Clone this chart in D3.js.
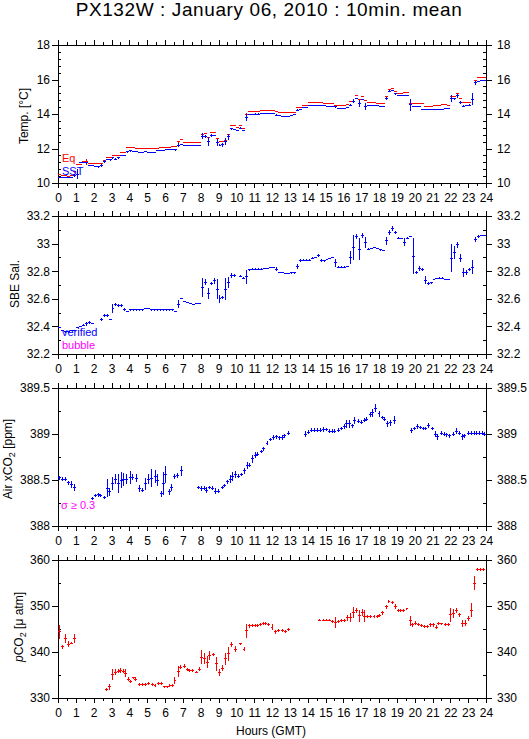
<!DOCTYPE html>
<html><head><meta charset="utf-8">
<script src="https://cdn.jsdelivr.net/npm/d3@7"></script>
<style>
body{margin:0;background:#fff;}
svg text{font-family:"Liberation Sans",Arial,Helvetica,sans-serif;}
</style></head><body>
<svg id="c" width="529" height="739"></svg>
<script>
// ---------- DATA ----------
const hourLabels = [0,1,2,3,4,5,6,7,8,9,10,11,12,13,14,15,16,17,18,19,20,21,22,23,24];
const halfHourTicks = [0.5,1.5,2.5,3.5,4.5,5.5,6.5,7.5,8.5,9.5,10.5,11.5,12.5,13.5,14.5,15.5,16.5,17.5,18.5,19.5,20.5,21.5,22.5,23.5];

// Panel 1: 10-min bins (6 per hour), Eq temperature (red) and SST (blue)
const eqTemp = [
 10.48,10.46,10.42,10.4,10.44,10.64,  11.07,11.07,11.22,11.22,11.12,11.12,
 11.12,11.12,11.12,11.32,11.5,11.5,   11.6,11.6,11.6,11.75,11.75,12.05,
 12.05,12.05,12.0,12.0,12.0,12.0,     12.02,12.02,12.02,12.02,12.05,12.05,
 12.05,12.05,12.13,12.13,12.38,12.52, 12.36,12.36,12.36,12.36,12.36,12.36,
 12.81,12.87,12.64,12.9,12.95,12.56,  12.38,12.38,12.48,12.83,13.31,13.31,
 13.22,13.31,13.16,14.0,14.17,14.17,  14.17,14.17,14.19,14.19,14.19,14.19,
 14.19,14.17,14.1,14.1,14.1,14.1,     14.1,14.1,14.38,14.38,14.5,14.5,
 14.67,14.67,14.67,14.67,14.67,14.61, 14.61,14.61,14.61,14.48,14.48,14.48,
 14.48,14.57,14.71,14.75,15.06,14.84, 15.0,14.8,14.65,14.65,14.65,14.61,
 14.61,14.61,15.0,15.43,15.5,15.33,   15.19,15.19,15.27,15.27,14.59,14.59,
 14.59,14.59,14.59,14.44,14.44,14.44, 14.5,14.5,14.5,14.55,14.55,14.48,
 15.0,15.0,15.19,14.9,14.69,14.69,    14.69,14.84,15.93,16.09,16.09,16.09
];
const eqTempSd = [
 .02,.02,.02,.02,.02,.05, .02,.02,.02,.2,.02,.02,
 .02,.02,.02,.03,.02,.02, .02,.02,.02,.02,.02,.03,
 .02,.02,.02,.02,.02,.02, .02,.02,.02,.02,.02,.02,
 .02,.02,.02,.02,.04,.02, .02,.02,.02,.02,.02,.02,
 .03,.03,.04,.03,.03,.03, .02,.02,.03,.03,.02,.02,
 .02,.02,.02,.04,.02,.02, .02,.02,.02,.02,.02,.02,
 .02,.02,.02,.02,.02,.02, .02,.02,.02,.02,.02,.02,
 .02,.02,.02,.02,.02,.02, .02,.02,.02,.02,.02,.02,
 .02,.02,.03,.03,.03,.03, .03,.03,.02,.02,.02,.02,
 .02,.02,.03,.03,.02,.02, .02,.02,.02,.02,.06,.02,
 .02,.02,.02,.02,.02,.02, .02,.02,.02,.02,.02,.02,
 .04,.03,.03,.03,.02,.02, .02,.03,.04,.02,.02,.02
];
const sstTemp = [
 10.33,10.33,10.32,10.31,10.33,10.45, 10.5,11.18,11.18,11.16,10.99,10.99,
 10.93,10.93,11.0,11.26,11.36,11.34,  11.45,11.38,11.45,11.6,11.6,11.8,
 11.86,11.8,11.8,11.79,11.79,11.8,    11.78,11.78,11.78,11.86,11.86,11.88,
 11.94,11.94,11.93,11.92,12.19,12.25, 12.19,12.19,12.18,12.18,12.18,12.18,
 12.71,12.69,12.4,12.75,12.77,12.33,  12.2,12.22,12.4,12.67,13.14,13.12,
 13.06,13.18,13.04,13.8,13.99,13.99,  14.0,14.0,14.03,14.03,14.02,14.03,
 14.03,13.93,13.9,13.88,13.88,13.88,  13.9,13.97,14.22,14.24,14.36,14.38,
 14.5,14.5,14.5,14.5,14.5,14.48,      14.42,14.42,14.44,14.42,14.3,14.3,
 14.3,14.38,14.52,14.75,14.9,14.61,   14.84,14.46,14.5,14.5,14.48,14.48,
 14.44,14.44,14.9,15.33,15.39,15.16,  15.06,15.06,15.06,15.06,14.53,14.42,
 14.42,14.42,14.28,14.28,14.28,14.28, 14.28,14.28,14.28,14.28,14.34,14.34,
 14.9,14.88,15.06,14.67,14.46,14.5,   14.52,14.86,15.81,15.9,15.97,15.97
];
const sstTempSd = [
 .03,.03,.03,.03,.04,.08, .29,.04,.04,.05,.03,.03,
 .03,.04,.08,.08,.03,.06, .03,.06,.03,.03,.03,.07,
 .05,.03,.03,.03,.03,.03, .03,.03,.03,.03,.03,.03,
 .03,.03,.03,.04,.1,.03,  .03,.03,.03,.03,.03,.03,
 .18,.08,.25,.08,.04,.2,  .06,.12,.2,.15,.05,.03,
 .03,.04,.04,.22,.03,.03, .03,.03,.03,.03,.03,.03,
 .03,.05,.03,.03,.03,.03, .03,.04,.05,.03,.03,.03,
 .03,.03,.03,.03,.03,.03, .03,.03,.03,.05,.03,.03,
 .03,.04,.06,.12,.05,.2,  .04,.2,.03,.03,.03,.03,
 .03,.05,.1,.05,.03,.04,  .03,.03,.03,.03,.33,.03,
 .04,.03,.03,.03,.03,.03, .03,.03,.03,.03,.03,.03,
 .2,.06,.12,.08,.04,.05,  .04,.33,.1,.04,.03,.03
];

// Panel 2: SBE salinity, 10-min bins
const sbeSal = [
 32.39,32.37,32.36,32.36,32.37,32.37,   32.39,32.40,32.41,32.42,32.43,32.42,
 null,null,32.45,32.48,32.48,32.45,     32.53,32.56,32.55,32.55,32.52,32.51,
 32.52,32.52,32.52,32.52,32.52,32.53,   32.53,32.52,32.52,32.52,32.52,32.52,
 32.52,32.52,32.52,32.51,32.56,32.60,   32.58,32.575,32.565,32.56,32.565,32.565,
 32.68,32.72,32.64,32.71,32.73,32.67,   32.60,32.61,32.67,32.72,32.77,32.77,
 null,32.765,32.75,32.76,32.81,32.815,  32.815,32.815,32.815,32.82,32.82,32.825,
 32.825,32.815,32.79,32.79,32.785,32.785, 32.787,32.787,32.835,32.88,32.88,32.88,
 32.88,32.895,32.9,32.915,32.877,32.875, 32.885,32.89,32.9,32.86,32.83,32.83,
 32.83,32.835,32.9,32.97,33.05,32.96,   33.06,33.01,32.96,32.965,32.97,32.965,
 32.955,32.95,33.02,33.08,33.11,33.08,  33.04,33.035,33.01,33.04,33.05,32.91,
 32.79,32.82,32.81,32.735,32.71,32.715, 32.74,32.745,32.75,32.75,32.74,32.74,
 32.895,32.935,32.99,32.895,32.79,32.79, 32.81,32.83,33.03,33.05,33.06,33.06
];
const sbeSalSd = [
 .005,.005,.005,.005,.005,.005, .005,.005,.01,.015,.01,.005,
 0,0,.01,.01,.01,.005,          .035,.01,.01,.01,.01,.005,
 .005,.005,.005,.005,.005,.005, .005,.005,.005,.005,.005,.005,
 .005,.005,.005,.005,.03,.005,  .005,.005,.005,.005,.005,.005,
 .07,.02,.04,.01,.02,.07,       .03,.01,.08,.04,.02,.01,
 0,.005,.01,.05,.005,.005,      .005,.005,.005,.005,.005,.005,
 .005,.015,.005,.005,.005,.005, .005,.005,.02,.01,.005,.005,
 .005,.005,.005,.01,.01,.005,   .005,.005,.005,.03,.005,.005,
 .005,.005,.05,.09,.02,.08,     .02,.04,.005,.005,.005,.005,
 .005,.005,.03,.02,.02,.01,     .005,.005,.03,.005,.005,.13,
 .01,.02,.01,.03,.01,.005,      .005,.005,.005,.005,.005,.005,
 .1,.05,.02,.03,.03,.02,        .01,.05,.02,.01,.005,.005
];

// Panel 3: Air xCO2 [hour, ppm, sd]
const airXCO2 = [
 [0.07,388.525,.02],[0.27,388.51,.02],[0.43,388.51,.02],[0.6,388.47,.02],[0.77,388.45,.035],[0.93,388.42,.04],
 [1.93,388.30,.02],[2.1,388.33,.02],[2.25,388.34,.02],[2.4,388.33,.02],[2.6,388.31,.02],[2.75,388.41,.1],
 [2.9,388.37,.045],[3.05,388.46,.07],[3.2,388.51,.055],[3.4,388.46,.1],[3.55,388.50,.09],[3.7,388.51,.07],
 [3.85,388.51,.055],[4.05,388.53,.07],[4.2,388.53,.035],[4.4,388.52,.045],[4.55,388.41,.035],[4.75,388.39,.02],
 [4.9,388.46,.065],[5.1,388.51,.055],[5.25,388.52,.1],[5.45,388.54,.07],[5.6,388.50,.065],[5.8,388.35,.035],
 [5.9,388.46,.125],[6.05,388.56,.09],[6.25,388.37,.035],[6.35,388.42,.035],[6.55,388.54,.03],[6.7,388.55,.03],
 [6.9,388.60,.055],
 [7.9,388.42,.02],[8.05,388.41,.03],[8.2,388.41,.02],[8.35,388.39,.03],[8.5,388.42,.02],[8.65,388.41,.02],
 [8.85,388.38,.03],[9.0,388.38,.02],[9.2,388.42,.02],[9.35,388.44,.02],[9.5,388.48,.02],[9.65,388.51,.04],
 [9.8,388.54,.05],[9.95,388.56,.04],[10.1,388.54,.02],[10.3,388.56,.02],[10.45,388.60,.03],[10.6,388.66,.04],
 [10.75,388.66,.02],[10.9,388.73,.04],[11.05,388.77,.03],[11.2,388.78,.02],[11.4,388.81,.02],[11.55,388.84,.02],
 [11.72,388.90,.02],[11.9,388.94,.02],[12.07,388.96,.03],[12.26,388.97,.02],[12.4,388.96,.02],[12.58,388.96,.03],
 [12.72,388.98,.02],[12.9,389.01,.02],
 [13.89,389.0,.03],[14.03,389.02,.02],[14.2,389.04,.02],[14.38,389.04,.02],[14.56,389.04,.02],[14.73,389.04,.02],
 [14.88,389.05,.03],[15.07,389.05,.02],[15.2,389.03,.02],[15.4,389.03,.02],[15.52,389.03,.02],[15.72,389.04,.02],
 [15.9,389.06,.02],[16.05,389.08,.03],[16.2,389.11,.04],[16.33,389.11,.04],[16.5,389.09,.02],[16.65,389.15,.04],
 [16.84,389.14,.02],[17.0,389.13,.02],[17.16,389.15,.02],[17.32,389.16,.02],[17.5,389.21,.03],[17.65,389.23,.04],
 [17.83,389.28,.045],[18.0,389.22,.03],[18.18,389.18,.02],[18.33,389.16,.02],[18.5,389.11,.03],[18.65,389.12,.03],
 [18.86,389.15,.045],
 [19.83,389.04,.025],[19.98,389.06,.02],[20.15,389.08,.03],[20.3,389.07,.02],[20.48,389.06,.02],[20.62,389.06,.02],
 [20.8,389.09,.03],[20.98,389.06,.02],[21.15,389.0,.03],[21.3,388.97,.03],[21.48,389.01,.02],[21.65,389.0,.02],
 [21.8,388.99,.02],[21.98,388.98,.02],[22.17,389.0,.02],[22.35,389.03,.03],[22.5,389.01,.02],[22.68,388.97,.03],
 [22.82,388.98,.02],[23.0,389.01,.02],[23.16,389.01,.02],[23.33,389.01,.02],[23.48,389.01,.02],[23.62,389.01,.02],
 [23.78,389.01,.02],[23.92,389.0,.02]
];

// Panel 4: seawater pCO2 [hour, uatm, sd]
const pco2 = [
 [0.07,344.35,1.6],[0.27,341.1,0.5],[0.43,343.0,1.0],[0.6,341.7,0.7],[0.77,341.95,0.3],[0.93,343.0,1.0],
 [2.7,331.8,0.3],[2.88,332.4,0.6],[3.07,335.1,1.2],[3.23,335.65,0.7],[3.38,335.8,0.4],[3.53,336.0,0.6],
 [3.66,335.8,0.4],[3.8,335.4,0.8],[3.94,334.1,0.4],[4.09,333.6,0.3],[4.22,334.35,0.3],[4.37,334.1,0.4],
 [4.56,332.9,0.3],[4.75,333.0,0.3],[4.92,332.9,0.3],[5.1,333.2,0.3],[5.29,332.9,0.3],[5.44,332.7,0.3],
 [5.63,333.2,0.3],[5.8,333.1,0.3],[5.96,332.4,0.3],[6.13,332.4,0.3],[6.28,332.7,0.3],[6.43,332.7,0.3],
 [6.56,333.8,0.7],[6.73,335.8,1.2],[6.88,336.7,0.4],[7.07,336.9,0.4],[7.25,336.15,0.3],[7.4,336.0,0.3],
 [7.55,335.9,0.3],[7.74,335.65,0.3],[7.93,336.3,0.5],
 [8.06,338.9,1.5],[8.2,338.5,1.2],[8.36,337.8,1.3],[8.52,339.2,1.0],[8.7,339.4,0.3],[8.9,337.4,1.5],
 [9.05,335.6,0.8],[9.2,336.5,0.7],[9.38,338.55,1.3],[9.55,339.6,1.5],[9.74,341.6,0.5],[9.93,340.65,0.7],
 [10.24,341.75,0.3],[10.43,340.65,0.5],[10.58,344.6,1.5],[10.73,345.7,0.4],[10.88,345.8,0.3],[11.05,345.8,0.3],
 [11.2,345.8,0.3],[11.36,345.9,0.3],[11.51,346.15,0.3],[11.66,346.15,0.3],[11.83,345.9,0.3],[12.0,345.4,0.7],
 [12.2,344.35,0.4],[12.39,344.7,0.3],[12.58,344.7,0.3],[12.77,344.5,0.3],[12.93,344.9,0.4],
 [14.69,346.95,0.3],[14.88,346.95,0.3],[15.07,346.95,0.3],[15.22,346.95,0.3],[15.4,346.7,0.3],[15.57,346.5,1.2],
 [15.74,346.7,0.3],[15.9,346.8,0.3],[16.07,346.8,0.3],[16.24,347.4,0.6],[16.41,347.5,1.0],[16.56,348.5,1.2],
 [16.73,349.0,0.5],[16.9,347.9,1.3],[17.05,348.6,0.8],[17.2,347.75,1.3],[17.38,347.75,0.3],[17.55,347.75,0.3],
 [17.72,347.75,0.3],[17.89,347.75,0.3],[18.05,347.9,0.3],[18.22,348.5,0.5],[18.4,349.8,0.5],[18.56,350.9,0.3],
 [18.73,350.7,0.3],[18.9,349.9,0.5],[19.07,349.1,0.3],[19.23,349.1,0.3],[19.4,349.1,0.3],[19.57,349.35,0.3],
 [19.74,346.8,1.1],[19.89,345.9,0.4],[20.04,346.3,0.4],[20.21,345.9,0.3],[20.37,345.7,0.3],[20.54,345.5,0.3],
 [20.71,345.5,0.3],[20.9,345.9,0.4],[21.05,345.9,0.4],[21.2,345.4,0.4],[21.36,346.2,0.3],[21.53,346.1,0.3],
 [21.72,346.0,0.3],[21.89,346.0,0.3],[22.02,348.1,1.5],[22.19,348.3,1.0],[22.36,349.05,0.5],[22.5,348.1,0.4],
 [22.67,346.2,0.8],[22.84,346.3,0.7],[23.0,347.25,0.5],[23.17,349.1,1.5],[23.35,355.0,1.5],[23.52,357.9,0.3],
 [23.68,357.9,0.3],[23.85,357.9,0.3]
];

// Axis ticks
const tempTicks = [10,12,14,16,18];
const salTicks = [32.2,32.4,32.6,32.8,33,33.2];
const airTicks = [388,388.5,389,389.5];
const pco2Ticks = [330,340,350,360];

// ---------- DRAWING ----------
const FONT = '"Liberation Sans", Arial, Helvetica, sans-serif';
const BLUE = "#0000ff", RED = "#ff0000", MAG = "#ff00ff";
const svg = d3.select("#c");
svg.append("rect").attr("width",529).attr("height",739).attr("fill","#fff");

const x = d3.scaleLinear().domain([0,24]).range([58,486]);
const PH = 138;

function binned(vals, sds){
  return vals.map((v,i)=> v==null ? null : {h:(i+0.5)/6, v:v, sd:sds[i]}).filter(d=>d);
}
function tuples(arr){ return arr.map(d=>({h:d[0], v:d[1], sd:d[2]})); }

function styleAxis(sel){
  sel.select(".domain").remove();
  sel.attr("font-family",null).attr("font-size",null);
  sel.selectAll("line").attr("stroke","#000");
  sel.selectAll("text").attr("font-family",FONT).attr("font-size",12).attr("fill","#000");
}

function panel(top, domain, majors, minorStep){
  const bottom = top + PH;
  const y = d3.scaleLinear().domain(domain).range([bottom, top]);
  const g = svg.append("g").attr("shape-rendering","crispEdges");
  const minors = d3.range(domain[0], domain[1] + 1e-9, minorStep)
      .filter(v => !majors.some(m => Math.abs(m - v) < 1e-6));
  g.append("g").attr("transform",`translate(0,${bottom})`)
    .call(d3.axisBottom(x).tickValues(hourLabels).tickSize(5).tickSizeOuter(0).tickPadding(5.5)).call(styleAxis);
  g.append("g").attr("transform",`translate(0,${bottom})`)
    .call(d3.axisBottom(x).tickValues(halfHourTicks).tickSize(3).tickSizeOuter(0).tickFormat("")).call(styleAxis);
  g.append("g").attr("transform",`translate(0,${top})`)
    .call(d3.axisTop(x).tickValues(hourLabels).tickSize(5).tickSizeOuter(0).tickFormat("")).call(styleAxis);
  g.append("g").attr("transform",`translate(0,${top})`)
    .call(d3.axisTop(x).tickValues(halfHourTicks).tickSize(3).tickSizeOuter(0).tickFormat("")).call(styleAxis);
  g.append("g").attr("transform",`translate(58,0)`)
    .call(d3.axisLeft(y).tickValues(majors).tickSize(6).tickSizeOuter(0).tickPadding(2).tickFormat(d=>String(d))).call(styleAxis);
  g.append("g").attr("transform",`translate(58,0)`)
    .call(d3.axisLeft(y).tickValues(minors).tickSize(-3).tickSizeOuter(0).tickFormat("")).call(styleAxis);
  g.append("g").attr("transform",`translate(486,0)`)
    .call(d3.axisRight(y).tickValues(majors).tickSize(6).tickSizeOuter(0).tickPadding(5).tickFormat(d=>String(d))).call(styleAxis);
  g.append("g").attr("transform",`translate(486,0)`)
    .call(d3.axisRight(y).tickValues(minors).tickSize(-3).tickSizeOuter(0).tickFormat("")).call(styleAxis);
  g.append("rect").attr("x",58).attr("y",top).attr("width",486-58).attr("height",PH)
    .attr("fill","none").attr("stroke","#000");
  return {y, g, top, bottom};
}

function drawCrosses(p, data, color){
  const s = p.g.append("g").attr("stroke",color).attr("stroke-width",1);
  s.selectAll("line.hz").data(data).join("line").attr("class","hz")
    .attr("x1",d=>x(d.h-1/12)).attr("x2",d=>x(d.h+1/12))
    .attr("y1",d=>p.y(d.v)).attr("y2",d=>p.y(d.v));
  s.selectAll("line.vt").data(data).join("line").attr("class","vt")
    .attr("x1",d=>x(d.h)).attr("x2",d=>x(d.h))
    .attr("y1",d=>p.y(d.v-d.sd)).attr("y2",d=>p.y(d.v+d.sd));
}

function yTitle(tx, cy, build){
  const t = svg.append("text").attr("transform",`translate(${tx},${cy}) rotate(-90)`)
    .attr("text-anchor","middle").attr("font-family",FONT).attr("font-size",12).attr("fill","#000");
  build(t);
}
function note(xp, yp, str, color){
  svg.append("text").attr("x",xp).attr("y",yp).attr("font-family",FONT).attr("font-size",11)
    .attr("fill",color).text(str);
}

// title
svg.append("text").attr("x",269).attr("y",16).attr("text-anchor","middle")
  .attr("font-family",FONT).attr("font-size",19).attr("letter-spacing",0.6).attr("fill","#000")
  .text("PX132W : January 06, 2010 : 10min. mean");

// Panel 1
const p1 = panel(45, [10,18], tempTicks, 0.4);
drawCrosses(p1, binned(eqTemp, eqTempSd), RED);
drawCrosses(p1, binned(sstTemp, sstTempSd), BLUE);
yTitle(28, 116, t => t.text("Temp. [°C]"));
note(62, 162, "Eq", RED);
note(62, 175, "SST", BLUE);

// Panel 2
const p2 = panel(216, [32.2,33.2], salTicks, 0.1);
drawCrosses(p2, binned(sbeSal, sbeSalSd), BLUE);
yTitle(19, 284, t => t.text("SBE Sal."));
note(62, 336, "verified", BLUE);
note(62, 349, "bubble", MAG);

// Panel 3
const p3 = panel(388, [388,389.5], airTicks, 0.25);
drawCrosses(p3, tuples(airXCO2), BLUE);
yTitle(12, 459, t => {
  t.append("tspan").text("Air xCO");
  t.append("tspan").attr("font-size",9).attr("dy",3).text("2");
  t.append("tspan").attr("dy",-3).text(" [ppm]");
});
note(61, 509, "σ ≥ 0.3", MAG);

// Panel 4
const p4 = panel(560, [330,360], pco2Ticks, 5);
drawCrosses(p4, tuples(pco2), RED);
yTitle(23, 627, t => {
  t.append("tspan").attr("font-style","italic").text("p");
  t.append("tspan").text("CO");
  t.append("tspan").attr("font-size",9).attr("dy",3).text("2");
  t.append("tspan").attr("dy",-3).text(" [μ atm]");
});

svg.append("text").attr("x",271).attr("y",735).attr("text-anchor","middle")
  .attr("font-family",FONT).attr("font-size",12).attr("fill","#000").text("Hours (GMT)");
</script>
</body></html>
